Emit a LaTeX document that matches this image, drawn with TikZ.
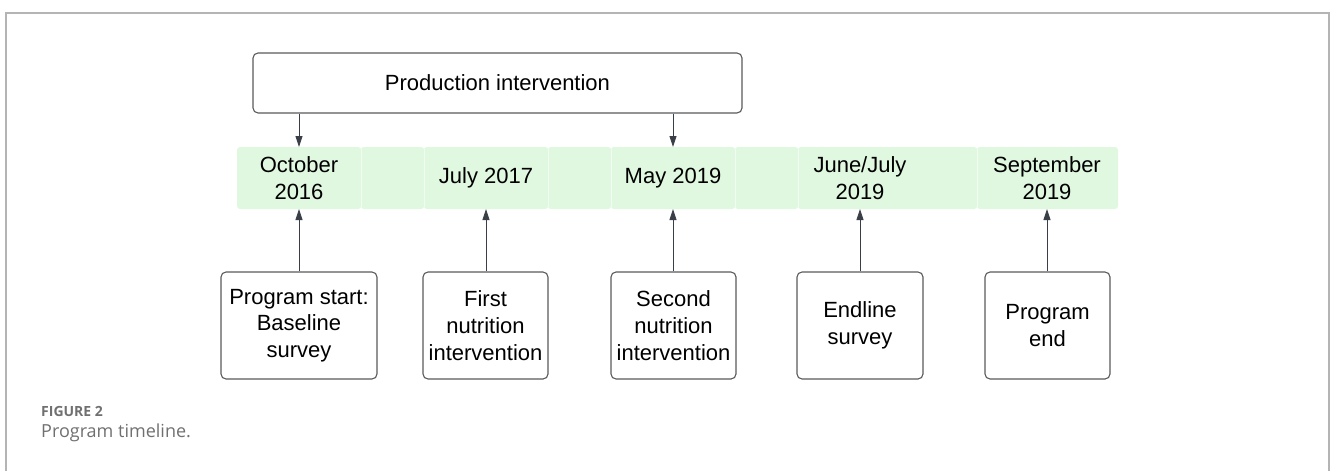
\documentclass[tikz,border=0pt]{standalone}
\usepackage{fontspec}
\setmainfont{Liberation Sans}
\newfontfamily\capfont{Open Sans}
\usetikzlibrary{arrows.meta}
\definecolor{bandgreen}{HTML}{E0F8E0}
\definecolor{boxline}{HTML}{5A5A5A}
\definecolor{arrowcol}{HTML}{3A3F47}
\definecolor{framecol}{HTML}{B4B4B4}
\definecolor{capgray}{HTML}{707070}
\tikzset{
  evbox/.style={draw=boxline, line width=1.1pt, rounded corners=5pt, fill=white, align=center, inner sep=0pt},
  seg/.style={fill=bandgreen, draw=none, rounded corners=3pt},
  datelbl/.style={align=center, inner sep=0pt},
  conn/.style={draw=arrowcol, line width=0.9pt, -{Triangle[length=11pt,width=7pt]}},
  txt/.style={font=\fontsize{22}{26.7}\selectfont}
}
\begin{document}
\begin{tikzpicture}[x=1pt,y=-1pt]
\useasboundingbox (0,0) rectangle (1330,471);
% frame
\draw[framecol, line width=1.6pt] (6,471) -- (6,13) -- (1329,13) -- (1329,471);
% band segments
\foreach \a/\b in {237/361.2,360.8/424.2,423.8/548.2,547.8/611.2,610.8/735.2,734.8/798.2,797.8/977.2,976.8/1118}
  \fill[seg] (\a,147) rectangle (\b,209);
\foreach \x in {361,424,548,611,735,798,977}
  \draw[white, opacity=0.55, line width=0.8pt] (\x,149) -- (\x,207);
% date labels
\node[datelbl, txt] (d1) at (299,178) {October\\2016};
\node[datelbl, txt] (d2) at (486,178) {July 2017};
\node[datelbl, txt] (d3) at (673,178) {May 2019};
\node[datelbl, txt] (d4) at (860,178) {June/July\\2019};
\node[datelbl, txt] (d5) at (1047,178) {September\\2019};
\coordinate (t1) at (299,147);
\coordinate (t3) at (673,147);
\coordinate (b1) at (299,209);
\coordinate (b2) at (486,209);
\coordinate (b3) at (673,209);
\coordinate (b4) at (860,209);
\coordinate (b5) at (1047,209);
% production box
\node[evbox, txt, minimum width=489pt, minimum height=60pt] (prod) at (497.5,83) {Production intervention};
% event boxes
\node[evbox, txt, minimum width=156pt, minimum height=107pt] (e1) at (299,325.5) {Program start:\\Baseline\\survey};
\node[evbox, txt, minimum width=125pt, minimum height=107pt] (e2) at (485.5,325.5) {First\\nutrition\\intervention};
\node[evbox, txt, minimum width=125pt, minimum height=107pt] (e3) at (673.5,325.5) {Second\\nutrition\\intervention};
\node[evbox, txt, minimum width=126pt, minimum height=107pt] (e4) at (860,325.5) {Endline\\survey};
\node[evbox, txt, minimum width=125pt, minimum height=107pt] (e5) at (1047.5,325.5) {Program\\end};
% connectors
\draw[conn] (prod.south -| t1) -- (t1);
\draw[conn] (prod.south -| t3) -- (t3);
\draw[conn] (e1.north -| b1) -- (b1);
\draw[conn] (e2.north -| b2) -- (b2);
\draw[conn] (e3.north -| b3) -- (b3);
\draw[conn] (e4.north -| b4) -- (b4);
\draw[conn] (e5.north -| b5) -- (b5);
% caption
\node[anchor=west, inner sep=0pt, text=capgray, font=\capfont\bfseries\fontsize{14}{16}\selectfont] (fig) at (41,411) {FIGURE 2};
\node[anchor=west, inner sep=0pt, text=capgray, font=\capfont\fontsize{18}{21}\selectfont] (cap) at (41,433) {Program timeline.};
\end{tikzpicture}
\end{document}
